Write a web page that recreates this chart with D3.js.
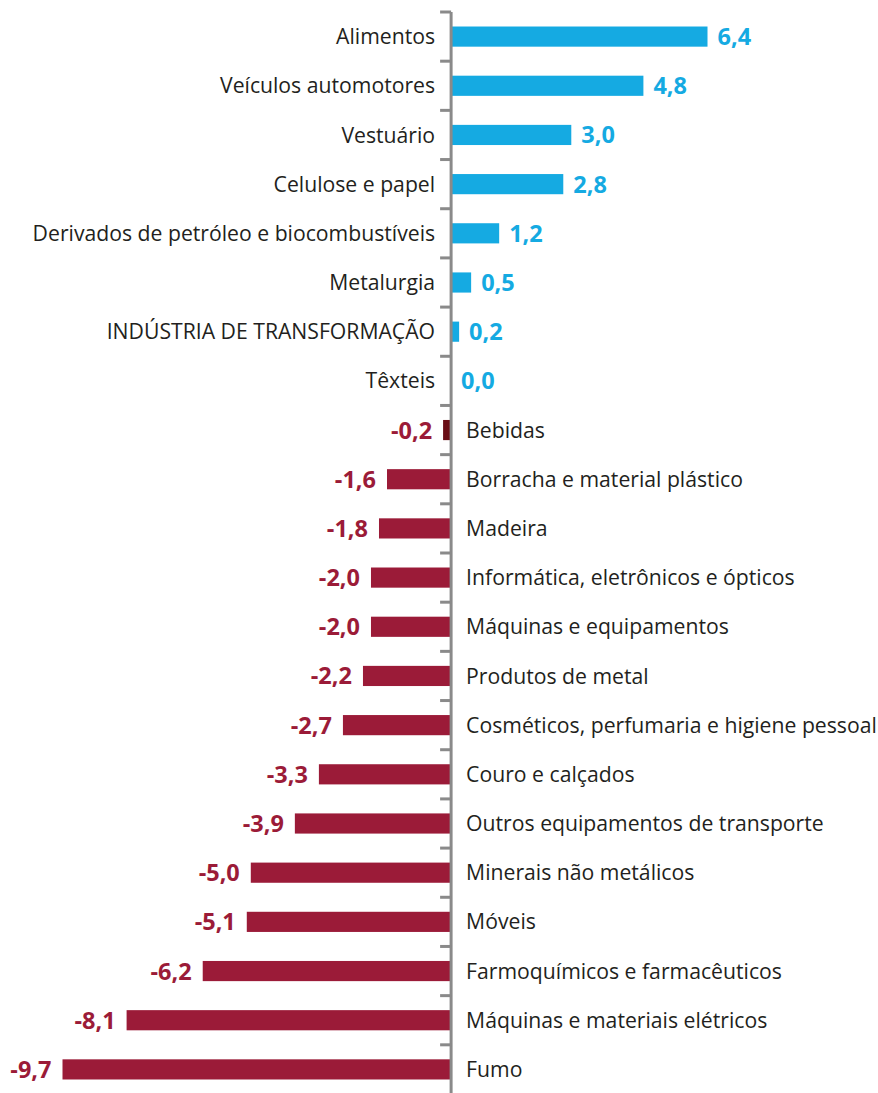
<!DOCTYPE html>
<html><head><meta charset="utf-8">
<script src="https://cdn.jsdelivr.net/npm/d3@7"></script>
<style>body{margin:0;background:#fff}</style>
</head><body>
<svg id="c" width="878" height="1093"></svg>
<script>
const categories = ["Alimentos","Veículos automotores","Vestuário","Celulose e papel","Derivados de petróleo e biocombustíveis","Metalurgia","INDÚSTRIA DE TRANSFORMAÇÃO","Têxteis","Bebidas","Borracha e material plástico","Madeira","Informática, eletrônicos e ópticos","Máquinas e equipamentos","Produtos de metal","Cosméticos, perfumaria e higiene pessoal","Couro e calçados","Outros equipamentos de transporte","Minerais não metálicos","Móveis","Farmoquímicos e farmacêuticos","Máquinas e materiais elétricos","Fumo"];
const values = [6.4,4.8,3.0,2.8,1.2,0.5,0.2,0.0,-0.2,-1.6,-1.8,-2.0,-2.0,-2.2,-2.7,-3.3,-3.9,-5.0,-5.1,-6.2,-8.1,-9.7];
const highlight = ["Bebidas"];

const svg = d3.select("#c");
const font = "'Open Sans', sans-serif";
const fs = 21.2, vfs = 23.5;
const x = d3.scaleLinear().domain([-9.7, 6.4]).range([62.5, 707.5]);
const y = d3.scaleBand().domain(categories).range([12, 1094]).paddingInner(0.59).paddingOuter(0.295);
const blue = "#15aae2", red = "#9b1b38", dark = "#6a0e16", txt = "#231f20";
const fmt = v => d3.format(".1f")(v).replace(".", ",").replace("−","-");

svg.selectAll("rect.bar").data(categories).join("rect").attr("class","bar")
  .attr("x",(d,i)=>Math.min(x(0),x(values[i])))
  .attr("width",(d,i)=>Math.abs(x(values[i])-x(0)))
  .attr("y",d=>y(d)).attr("height",y.bandwidth())
  .attr("fill",(d,i)=>highlight.includes(d)?dark:(values[i]>=0?blue:red));

// axis
const bands = d3.scaleBand().domain(categories).range([12,1094]);
const ag = svg.append("g").attr("transform",`translate(${x(0)},0)`);
ag.append("line").attr("y1",12).attr("y2",1093).attr("stroke","#8a8a8a").attr("stroke-width",3);
ag.selectAll("line.tk").data(categories).join("line").attr("class","tk")
  .attr("x1",-11).attr("x2",0).attr("y1",d=>bands(d)).attr("y2",d=>bands(d))
  .attr("stroke","#8a8a8a").attr("stroke-width",3);

svg.selectAll("text.cat").data(categories).join("text").attr("class","cat")
  .attr("x",(d,i)=>values[i]>=0 ? x(0)-16 : x(0)+15)
  .attr("text-anchor",(d,i)=>values[i]>=0?"end":"start")
  .attr("y",d=>y(d)+y.bandwidth()/2).attr("dy","0.36em")
  .attr("font-family",font).attr("font-size",fs).attr("fill",txt)
  .text(d=>d);

svg.selectAll("text.val").data(categories).join("text").attr("class","val")
  .attr("x",(d,i)=>values[i]>=0 ? x(values[i])+10 : x(values[i])-11)
  .attr("text-anchor",(d,i)=>values[i]>=0?"start":"end")
  .attr("y",d=>y(d)+y.bandwidth()/2).attr("dy","0.36em")
  .attr("font-family",font).attr("font-size",vfs).attr("font-weight",700)
  .attr("fill",(d,i)=>values[i]>=0?blue:red)
  .text((d,i)=>fmt(values[i]));
</script>
</body></html>
